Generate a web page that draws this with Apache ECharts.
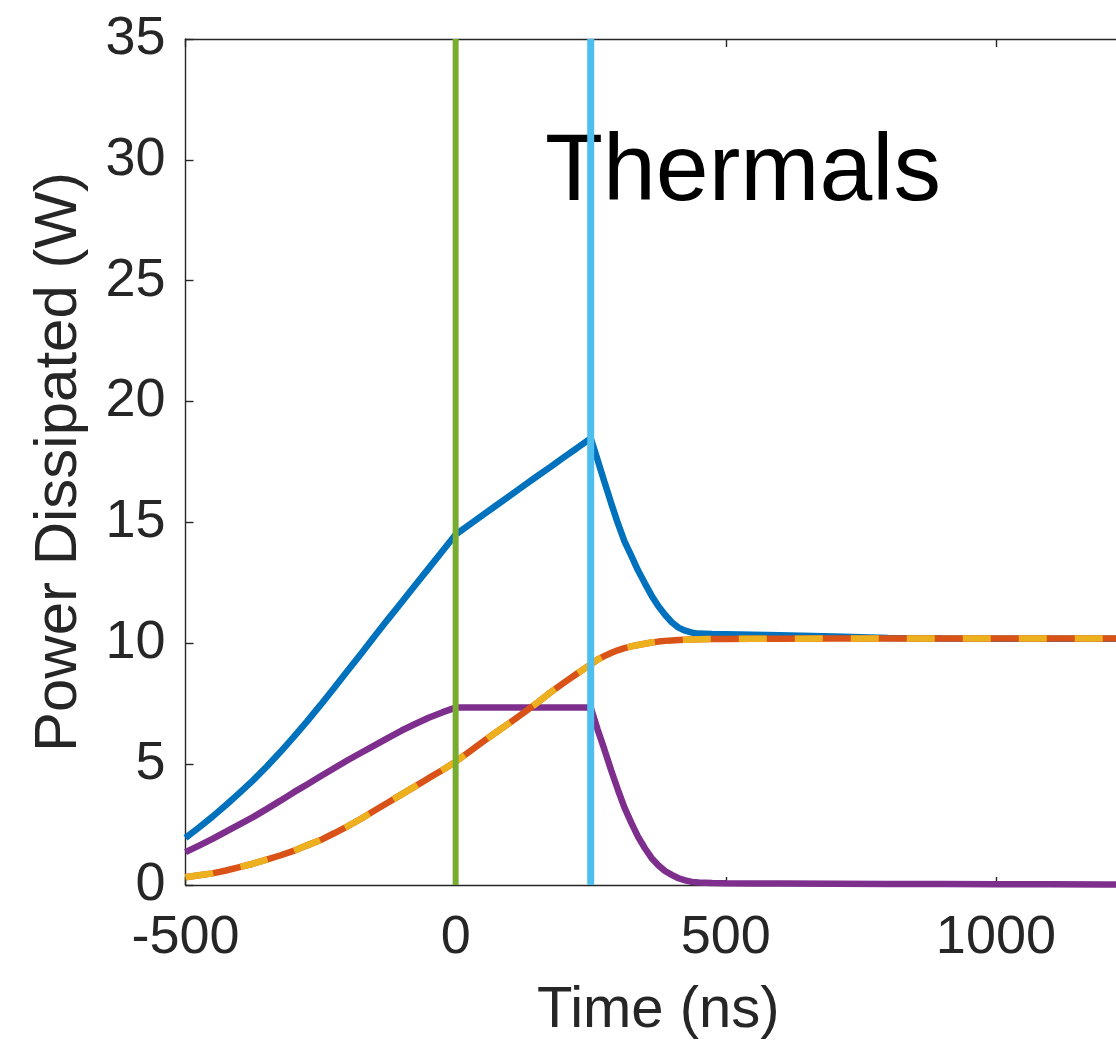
<!DOCTYPE html>
<html>
<head>
<meta charset="utf-8">
<script src="https://cdn.jsdelivr.net/npm/echarts@6/dist/echarts.min.js"></script>
<style>
  html, body { margin: 0; padding: 0; background: #ffffff; }
  #chart { width: 1116px; height: 1040px; }
</style>
</head>
<body>
<div id="chart"></div>
<script>
// ---- data ----
const timeNs = [-500,-475,-450,-425,-400,-375,-350,-325,-300,-275,-250,-225,-200,-175,-150,-125,-100,-75,-50,-25,
  0,25,50,75,100,125,150,175,200,225,250,
  262.5,275,287.5,300,312.5,325,337.5,350,362.5,375,387.5,400,412.5,425,437.5,450,
  475,500,
  550,600,700,800,900,1000,1100,1200,1300,1400,1500];

const bluePower = [1.95,2.38,2.83,3.31,3.81,4.33,4.89,5.49,6.12,6.77,7.45,8.15,8.86,9.57,10.29,11.00,11.70,12.40,13.10,13.80,
  14.50,14.90,15.30,15.70,16.10,16.50,16.90,17.29,17.69,18.08,18.48,
  17.60,16.70,15.82,14.98,14.22,13.63,13.02,12.49,11.98,11.54,11.18,10.87,10.65,10.52,10.44,10.40,
  10.38,10.37,
  10.35,10.33,10.28,10.22,10.20,10.19,10.19,10.19,10.19,10.19,10.19];

const purplePower = [1.36,1.63,1.91,2.21,2.51,2.81,3.14,3.48,3.83,4.16,4.50,4.83,5.16,5.47,5.78,6.09,6.39,6.66,6.92,7.14,
  7.34,7.34,7.34,7.34,7.34,7.34,7.34,7.34,7.34,7.34,7.34,
  6.45,5.63,4.77,3.96,3.20,2.58,2.00,1.53,1.12,0.82,0.58,0.42,0.28,0.19,0.13,0.10,
  0.08,0.07,
  0.06,0.06,0.05,0.04,0.04,0.03,0.03,0.02,0.02,0.02,0.02];

const orangePower = [0.32,0.40,0.48,0.60,0.74,0.88,1.05,1.22,1.41,1.64,1.86,2.14,2.43,2.74,3.08,3.41,3.75,4.08,4.42,4.75,
  5.10,5.51,5.92,6.32,6.71,7.11,7.52,7.96,8.36,8.75,9.13,
  9.32,9.47,9.60,9.71,9.80,9.87,9.93,9.98,10.03,10.07,10.10,10.12,10.14,10.15,10.16,10.17,
  10.18,10.18,
  10.19,10.19,10.20,10.20,10.20,10.20,10.20,10.20,10.20,10.20,10.20];

const yellowPower = [0.32,0.40,0.48,0.60,0.74,0.88,1.05,1.22,1.41,1.64,1.86,2.14,2.43,2.74,3.08,3.41,3.75,4.08,4.42,4.75,
  5.10,5.51,5.92,6.32,6.71,7.11,7.52,7.96,8.36,8.75,9.13,
  9.32,9.47,9.60,9.71,9.80,9.87,9.93,9.98,10.03,10.07,10.10,10.12,10.14,10.15,10.16,10.17,
  10.18,10.18,
  10.19,10.19,10.20,10.20,10.20,10.20,10.20,10.20,10.20,10.20,10.20];

const markerTimes = [0, 250];          // vertical lines (green, light blue)
const yRange = [0, 35];
const xRange = [-500, 1250];           // right edge falls just outside the picture, as in the reference
const titleText = 'Thermals';
const xLabel = 'Time (ns)';
const yLabel = 'Power Dissipated (W)';

// ---- chart ----
const FONT = 'Liberation Sans, Arial, Helvetica, sans-serif';
const AX = '#262626';
const pair = (vals) => timeNs.map((t, i) => [t, vals[i]]);
const plain = (v) => String(v);

const chart = echarts.init(document.getElementById('chart'), null, { renderer: 'canvas' });

const option = {
  animation: false,
  backgroundColor: '#ffffff',
  grid: { left: 185.5, top: 39, width: 945.5, height: 846, containLabel: false, outerBoundsMode: 'none' },
  xAxis: [
    {
      type: 'value', position: 'bottom', min: xRange[0], max: xRange[1], interval: 500,
      axisLine: { show: true, onZero: false, lineStyle: { color: AX, width: 1.4 } },
      axisTick: { show: true, inside: true, length: 8, lineStyle: { color: AX, width: 1.4 } },
      axisLabel: { show: true, margin: 26, fontSize: 54, color: AX, fontFamily: FONT, formatter: plain,
                   showMaxLabel: false },
      splitLine: { show: false },
      name: xLabel, nameLocation: 'middle', nameGap: 97,
      nameTextStyle: { fontSize: 58, color: AX, fontFamily: FONT }
    },
    {
      type: 'value', position: 'top', min: xRange[0], max: xRange[1], interval: 500,
      axisLine: { show: true, onZero: false, lineStyle: { color: AX, width: 1.4 } },
      axisTick: { show: true, inside: true, length: 8, lineStyle: { color: AX, width: 1.4 } },
      axisLabel: { show: false },
      splitLine: { show: false }
    }
  ],
  yAxis: [
    {
      type: 'value', position: 'left', min: yRange[0], max: yRange[1], interval: 5,
      axisLine: { show: true, onZero: false, lineStyle: { color: AX, width: 1.4 } },
      axisTick: { show: true, inside: true, length: 8, lineStyle: { color: AX, width: 1.4 } },
      axisLabel: { show: true, margin: 20, fontSize: 54, color: AX, fontFamily: FONT, formatter: plain },
      splitLine: { show: false },
      name: yLabel, nameLocation: 'middle', nameRotate: 90, nameGap: 96,
      nameTextStyle: { fontSize: 60, color: AX, fontFamily: FONT }
    }
  ],
  graphic: [
    {
      type: 'text', left: 545, top: 126, z: 1, zlevel: 0,
      style: { text: titleText, fontSize: 95, fill: '#000000', fontFamily: FONT }
    }
  ],
  series: [
    { name: 'blue', type: 'line', data: pair(bluePower), showSymbol: false, symbol: 'none', z: 2,
      lineStyle: { color: '#0072BD', width: 6.5 } },
    { name: 'purple', type: 'line', data: pair(purplePower), showSymbol: false, symbol: 'none', z: 3,
      lineStyle: { color: '#7E2F8E', width: 6.5 } },
    { name: 'orange', type: 'line', data: pair(orangePower), showSymbol: false, symbol: 'none', z: 4,
      lineStyle: { color: '#D95319', width: 6.5 } },
    { name: 'yellow', type: 'line', data: pair(yellowPower), showSymbol: false, symbol: 'none', z: 5,
      lineStyle: { color: '#EDB120', width: 6.5, type: [28, 28] } },
    { name: 't0', type: 'line', data: [[markerTimes[0], yRange[0]], [markerTimes[0], yRange[1]]],
      showSymbol: false, symbol: 'none', z: 6, lineStyle: { color: '#77AC30', width: 6 } },
    { name: 't1', type: 'line', data: [[markerTimes[1], yRange[0]], [markerTimes[1], yRange[1]]],
      showSymbol: false, symbol: 'none', z: 6, lineStyle: { color: '#4DBEEE', width: 7 } }
  ]
};
chart.setOption(option);
</script>
</body>
</html>
